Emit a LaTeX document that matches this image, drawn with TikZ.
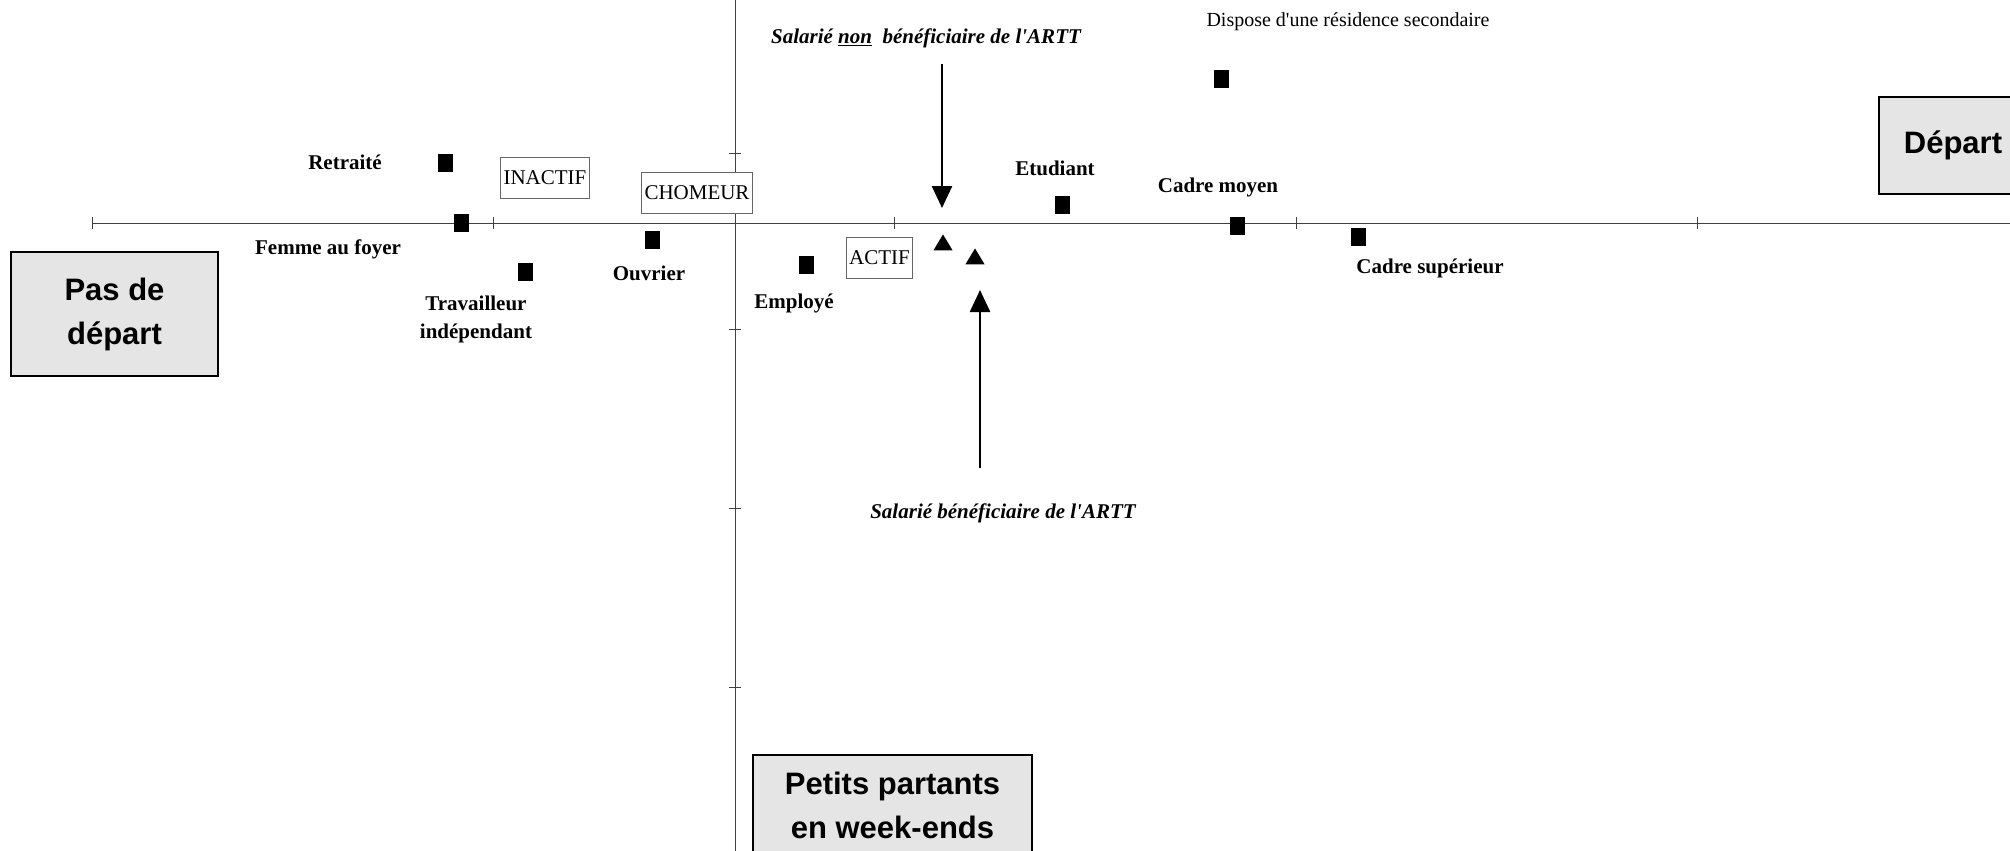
\documentclass[tikz,border=0pt]{standalone}
\usepackage{fontspec}
\setmainfont{Liberation Serif}[Ligatures=TeXOff]
\newfontfamily\arialfont{Liberation Sans}
\usetikzlibrary{arrows.meta,shapes.geometric}
\begin{document}
\begin{tikzpicture}[x=1pt,y=-1pt,
  lbl/.style={font=\fontsize{21}{28}\selectfont\bfseries, align=center, inner sep=0pt},
  ital/.style={font=\fontsize{21}{24}\selectfont\bfseries\itshape, inner sep=0pt},
  plain/.style={font=\fontsize{20}{24}\selectfont, inner sep=0pt},
  cat/.style={draw=black!60, line width=0.8pt, fill=white, font=\fontsize{21}{24}\selectfont, inner xsep=3pt, inner ysep=0pt, minimum height=41pt},
  pt/.style={fill=black, minimum width=15pt, minimum height=18pt, inner sep=0pt},
  tri/.style={isosceles triangle, isosceles triangle apex angle=62, shape border rotate=90, fill=black, inner sep=0pt, minimum height=16pt},
  big/.style={draw=black, line width=1.5pt, fill=black!10, font=\arialfont\bfseries\fontsize{31}{44}\selectfont, align=center, inner sep=0pt},
  axis/.style={draw=black!75, line width=1pt},
  tickmark/.style={draw=black!75, line width=1pt},
  arr/.style={line width=2.5pt, -{Triangle[length=22pt,width=20pt]}}
]
\useasboundingbox (0,0) rectangle (2010,851);
\clip (0,0) rectangle (2010,851);

% axes
\coordinate (hl) at (92,223);
\coordinate (hr) at (2010,223);
\coordinate (vt) at (735,0);
\coordinate (vb) at (735,851);
\draw[axis] (hl) -- (hr);
\draw[axis] (vt) -- (vb);
\foreach \x in {92,493,894,1296,1697} \draw[tickmark] (\x,217) -- (\x,229);
\foreach \y in {153,329,508,687} \draw[tickmark] (729,\y) -- (741,\y);

% big boxes
\node[big, minimum width=207pt, minimum height=124pt] (pasdep) at (114.5,314) {Pas de\\départ};
\node[big, minimum width=148pt, minimum height=97pt] (depart) at (1953,145.5) {Départ};
\node[big, minimum width=279pt, minimum height=100pt] (petits) at (892.5,805) {Petits partants\\en week-ends};

% category boxes
\node[cat] (inactif) at (545,177.5) {INACTIF};
\node[cat] (chomeur) at (697,192.5) {CHOMEUR};
\node[cat] (actif) at (879.5,257.5) {ACTIF};

% points
\node[pt] (pretraite) at (445,163) {};
\node[pt] (pfemme) at (461,223) {};
\node[pt] (ptrav) at (525,272) {};
\node[pt] (pouvrier) at (652,240) {};
\node[pt] (pemploye) at (806,265) {};
\node[pt] (petudiant) at (1062,205) {};
\node[pt] (presid) at (1221,79) {};
\node[pt] (pcmoyen) at (1237,226) {};
\node[pt] (pcsup) at (1358,237) {};
\node[tri] (tnon) at (943,245) {};
\node[tri] (toui) at (975,259) {};

% labels
\node[lbl] (lretraite) at (345,162) {Retraité};
\node[lbl] (lfemme) at (328,249) {Femme au foyer};
\node[lbl] (ltrav) at (476,319) {Travailleur\\indépendant};
\node[lbl] (louvrier) at (649,273) {Ouvrier};
\node[lbl] (lemploye) at (794,303) {Employé};
\node[lbl] (letudiant) at (1055,168) {Etudiant};
\node[lbl] (lcmoyen) at (1218,187) {Cadre moyen};
\node[lbl] (lcsup) at (1430,268) {Cadre supérieur};
\node[plain] (lresid) at (1348,22) {Dispose d'une résidence secondaire};
\node[ital] (lnon) at (926,38) {Salarié \underline{non}\ \ bénéficiaire de l'ARTT};
\node[ital] (loui) at (1003,513) {Salarié bénéficiaire de l'ARTT};

% arrows
\coordinate (dtop) at (942,64);
\coordinate (dtip) at (942,208);
\coordinate (ubot) at (980,468);
\coordinate (utip) at (980,290);
\draw[arr] (dtop) -- (dtip);
\draw[arr] (ubot) -- (utip);
\end{tikzpicture}
\end{document}
